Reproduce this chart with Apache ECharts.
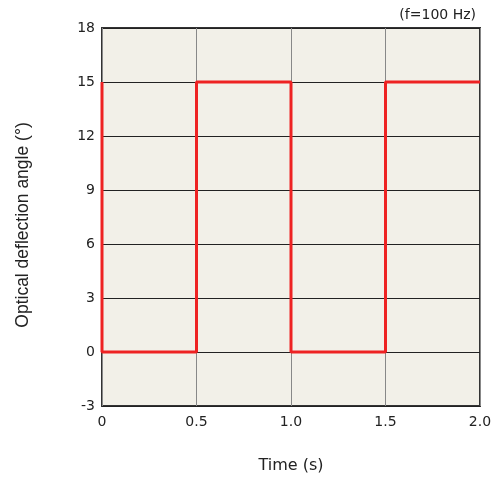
<!DOCTYPE html>
<html><head><meta charset="utf-8">
<script src="https://cdn.jsdelivr.net/npm/echarts@6/dist/echarts.min.js"></script>
<style>html,body{margin:0;padding:0;background:#fff}#c{width:496px;height:479px}</style>
</head><body><div id="c"></div>
<script>
const timeValues = [0, 0, 0.5, 0.5, 1.0, 1.0, 1.5, 1.5, 2.0];
const angleValues = [15, 0, 0, 15, 15, 0, 0, 15, 15];
const xTicks = ['0', '0.5', '1.0', '1.5', '2.0'];
const xLabel = 'Time (s)';
const yLabel = 'Optical deflection angle (°)';
const note = '(f=100 Hz)';

const chart = echarts.init(document.getElementById('c'), null, {renderer: 'canvas'});
const tickFont = 'DejaVu Sans';
chart.setOption({
  animation: false,
  backgroundColor: '#fff',
  grid: {left: 102, top: 28, right: 16, bottom: 73, show: true, backgroundColor: '#f2f0e8', borderColor: '#333', borderWidth: 2},
  title: {text: note, right: 15, top: 3, textStyle: {fontFamily: tickFont, fontSize: 14, fontWeight: 'normal', color: '#222'}},
  xAxis: {
    type: 'value', min: 0, max: 2, interval: 0.5,
    name: xLabel, nameLocation: 'middle', nameGap: 52,
    nameTextStyle: {fontFamily: 'DejaVu Sans', fontSize: 16, color: '#222'},
    axisLine: {show: false}, axisTick: {show: false},
    axisLabel: {margin: 9, fontFamily: tickFont, fontSize: 14, color: '#222',
      formatter: v => xTicks[Math.round(v / 0.5)]},
    splitLine: {show: true, lineStyle: {color: '#888', width: 1}}
  },
  yAxis: {
    type: 'value', min: -3, max: 18, interval: 3,
    name: yLabel, nameLocation: 'middle', nameGap: 70, nameRotate: 90,
    nameTextStyle: {fontFamily: 'Liberation Sans', fontSize: 17.5, color: '#222', padding: [0, 16, 0, 0]},
    axisLine: {show: false}, axisTick: {show: false},
    axisLabel: {margin: 7, fontFamily: tickFont, fontSize: 14, color: '#222'},
    splitLine: {show: true, lineStyle: {color: '#222', width: 1}}
  },
  series: [{
    type: 'line', data: timeValues.map((t, i) => [t, angleValues[i]]),
    showSymbol: false, lineStyle: {color: '#ee2222', width: 3}, clip: false
  }]
});
</script></body></html>
